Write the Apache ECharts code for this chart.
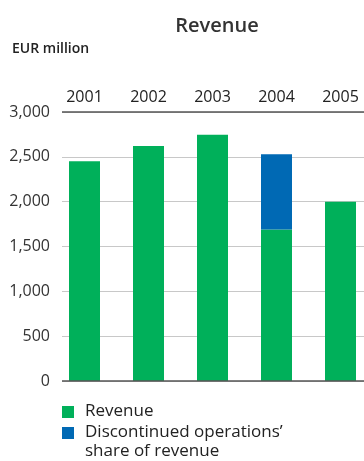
<!DOCTYPE html>
<html>
<head>
<meta charset="utf-8">
<script src="https://cdn.jsdelivr.net/npm/echarts@6/dist/echarts.min.js"></script>
<style>
  html, body { margin: 0; padding: 0; background: #fff; }
  #chart { width: 364px; height: 461px; }
</style>
</head>
<body>
<div id="chart"></div>
<script>
// Revenue by year, EUR million
const years = ['2001', '2002', '2003', '2004', '2005'];
const revenue = [2450, 2620, 2745, 1690, 2000];
const discontinued = [0, 0, 0, 840, 0];
const yTicks = [0, 500, 1000, 1500, 2000, 2500, 3000];

const seriesNames = ['Revenue', 'Discontinued operations’ share of revenue'];
const legendLines = [['Revenue'], ['Discontinued operations’', 'share of revenue']];
const colors = ['#00b05a', '#0069b4'];

const FONT = '"Open Sans", "Noto Sans", sans-serif';
const chart = echarts.init(document.getElementById('chart'), null, { renderer: 'canvas' });

// legend: coloured swatch plus wrapped label per series
const legendGraphics = [];
const swatchTops = [406, 427];
const lineCenters = [[411], [432, 451]];
legendLines.forEach((lines, i) => {
  legendGraphics.push({
    type: 'rect', x: 62, y: swatchTops[i],
    shape: { width: 12, height: 12 },
    style: { fill: colors[i] }
  });
  lines.forEach((t, j) => {
    legendGraphics.push({
      type: 'text', x: 85, y: lineCenters[i][j],
      style: { text: t, font: '17px ' + FONT, fill: '#222', verticalAlign: 'middle' }
    });
  });
});

chart.setOption({
  animation: false,
  title: {
    text: 'Revenue', left: 212, top: 11, textAlign: 'center',
    textStyle: { fontFamily: FONT, fontSize: 20, fontWeight: 600, color: '#333' }
  },
  graphic: [
    {
      type: 'text', x: 12, y: 49,
      style: { text: 'EUR million', font: '600 14px ' + FONT, fill: '#222', verticalAlign: 'middle' }
    }
  ].concat(legendGraphics),
  grid: [
    { left: 62, right: 0, top: 112, bottom: 80, outerBoundsMode: 'none' },
    { left: 52.5, width: 320, top: 112, bottom: 80, outerBoundsMode: 'none' }
  ],
  xAxis: [
    {
      gridIndex: 0, type: 'category', data: years, show: false
    },
    {
      gridIndex: 1, type: 'category', data: years, position: 'top',
      axisLine: { show: false }, axisTick: { show: false },
      axisLabel: { margin: 7, fontFamily: FONT, fontSize: 16, color: '#222' }
    }
  ],
  yAxis: [
    {
      gridIndex: 0, type: 'value', min: 0, max: 3000, interval: 500,
      axisLine: { show: false }, axisTick: { show: false },
      axisLabel: {
        margin: 12, fontFamily: FONT, fontSize: 16, color: '#333',
        formatter: v => yTicks.includes(v) ? v.toLocaleString('en-US') : ''
      },
      splitLine: { lineStyle: { color: '#c8c8c8', width: 1 } }
    },
    {
      gridIndex: 1, type: 'value', min: 0, max: 3000, show: false, splitLine: { show: false }
    }
  ],
  series: [
    {
      // frame lines at 0 and 3,000
      type: 'line', xAxisIndex: 0, yAxisIndex: 0, data: [], silent: true,
      markLine: {
        symbol: 'none', silent: true, label: { show: false },
        lineStyle: { color: '#555', width: 1.5, type: 'solid' },
        data: [{ yAxis: 0 }, { yAxis: 3000 }]
      }
    },
    {
      name: seriesNames[0], type: 'bar', stack: 'rev', xAxisIndex: 1, yAxisIndex: 1,
      data: revenue, barWidth: 31, itemStyle: { color: colors[0] }
    },
    {
      name: seriesNames[1], type: 'bar', stack: 'rev', xAxisIndex: 1, yAxisIndex: 1,
      data: discontinued, barWidth: 31, itemStyle: { color: colors[1] }
    }
  ]
});
</script>
</body>
</html>
